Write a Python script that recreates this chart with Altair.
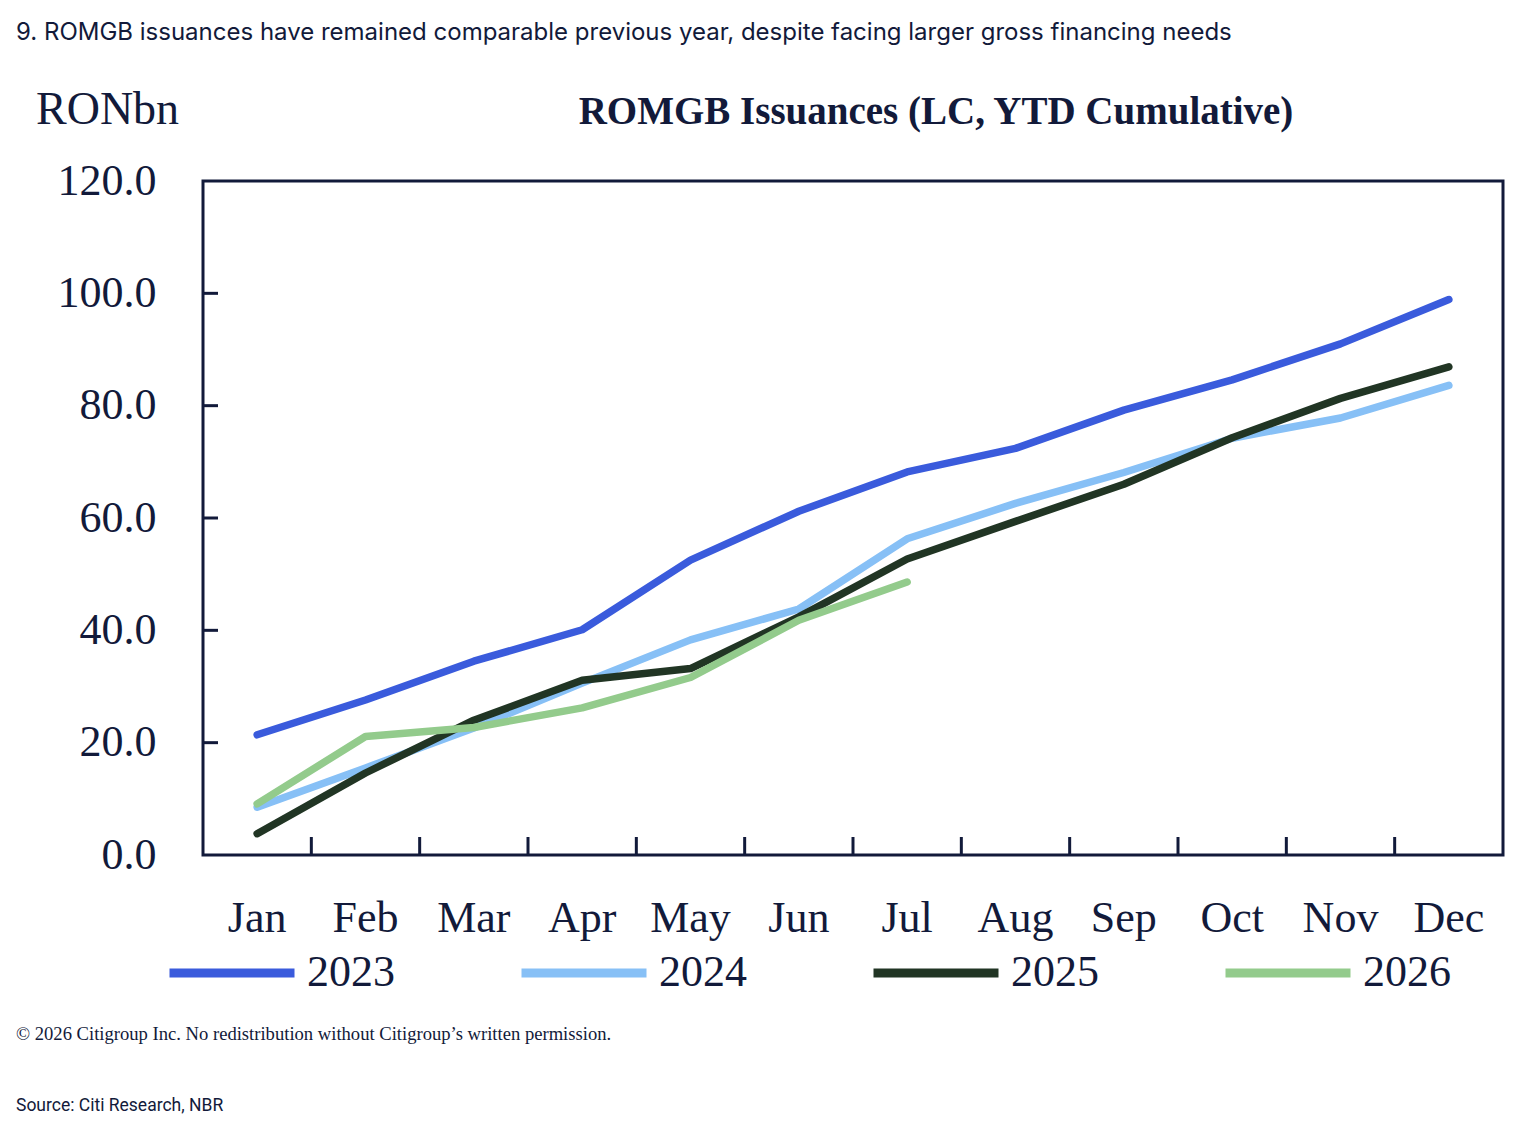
import altair as alt
import pandas as pd

months = ["Jan", "Feb", "Mar", "Apr", "May", "Jun", "Jul", "Aug", "Sep", "Oct", "Nov", "Dec"]
years = ["2023", "2024", "2025", "2026"]
s2023 = [21.4, 27.6, 34.5, 40.1, 52.5, 61.2, 68.2, 72.4, 79.2, 84.6, 91.0, 98.9]
s2024 = [8.5, 15.5, 22.6, 30.6, 38.3, 43.8, 56.3, 62.6, 68.1, 74.2, 77.8, 83.6]
s2025 = [3.8, 14.6, 24.0, 31.1, 33.2, 42.4, 52.7, 59.4, 66.0, 74.3, 81.3, 86.9]
s2026 = [9.1, 21.1, 22.7, 26.2, 31.6, 41.8, 48.6]
colors = ["#3a5bdc", "#87c0f6", "#213524", "#93cb8c"]
y_ticks = [0, 20, 40, 60, 80, 100, 120]

INK = "#121a3a"
SERIF = "Liberation Serif"

rows = []
for yr, vals in zip(years, [s2023, s2024, s2025, s2026]):
    for m, v in zip(months, vals):
        rows.append({"month": m, "year": yr, "value": v})
df = pd.DataFrame(rows)

xscale = alt.Scale(type="band", domain=months, paddingInner=0, paddingOuter=0)
yscale = alt.Scale(domain=[0, 120], nice=False)

lines = alt.Chart(df).mark_line(strokeWidth=7.5, strokeCap="round", strokeJoin="round").encode(
    x=alt.X("month:N", scale=xscale, bandPosition=0.5,
            axis=alt.Axis(title=None, labelAngle=0, domain=False, ticks=False, grid=False,
                          labelFont=SERIF, labelFontSize=44, labelColor=INK, labelPadding=41)),
    y=alt.Y("value:Q", scale=yscale,
            axis=alt.Axis(title=None, values=y_ticks, format=".1f", domain=False, ticks=False,
                          grid=False, labelFont=SERIF, labelFontSize=44, labelColor=INK,
                          labelPadding=47)),
    color=alt.Color("year:N", scale=alt.Scale(domain=years, range=colors),
                    legend=alt.Legend(title=None, orient="none", direction="horizontal",
                                      columns=4, legendX=-38, legendY=725,
                                      symbolType="stroke", symbolSize=15625,
                                      symbolStrokeWidth=9, labelFont=SERIF, labelFontSize=44,
                                      labelColor=INK, labelOffset=8, columnPadding=108,
                                      labelLimit=300)),
)

xt = pd.DataFrame({"month": months[1:]})
xticks = alt.Chart(xt).mark_rule(color=INK, strokeWidth=3).encode(
    x=alt.X("month:N", scale=xscale, bandPosition=0),
    y=alt.value(674),
    y2=alt.value(656),
)

yt = pd.DataFrame({"v": y_ticks[1:-1]})
yticks = alt.Chart(yt).mark_rule(color=INK, strokeWidth=3).encode(
    y=alt.Y("v:Q", scale=yscale),
    x=alt.value(0),
    x2=alt.value(15),
)


def txt(s, x, y, font, size, weight="normal", align="left"):
    return alt.Chart(pd.DataFrame({"t": [s]})).mark_text(
        font=font, fontSize=size, fontWeight=weight, align=align, baseline="alphabetic", color=INK
    ).encode(text="t:N", x=alt.value(x), y=alt.value(y))

caption = txt("9. ROMGB issuances have remained comparable previous year, despite facing larger gross financing needs",
              -187, -141, "Inter", 24)
unit = txt("RONbn", -167, -57, SERIF, 46)
title = txt("ROMGB Issuances (LC, YTD Cumulative)", 733, -57, SERIF, 39, "bold", "center")
copy = txt("\u00a9 2026 Citigroup Inc. No redistribution without Citigroup\u2019s written permission.",
           -187, 859, SERIF, 18.6)
source = txt("Source: Citi Research, NBR", -187, 930, "Roboto", 17.5)

chart = alt.layer(lines, xticks, yticks, caption, unit, title, copy, source).properties(
    width=1300, height=674,
    autosize=alt.AutoSizeParams(type="none"),
    padding={"left": 195, "top": 173, "right": 21, "bottom": 281},
    background="white",
).configure_view(stroke=INK, strokeWidth=3)

chart.save("out.html", embed_options={"renderer": "svg", "actions": False})
